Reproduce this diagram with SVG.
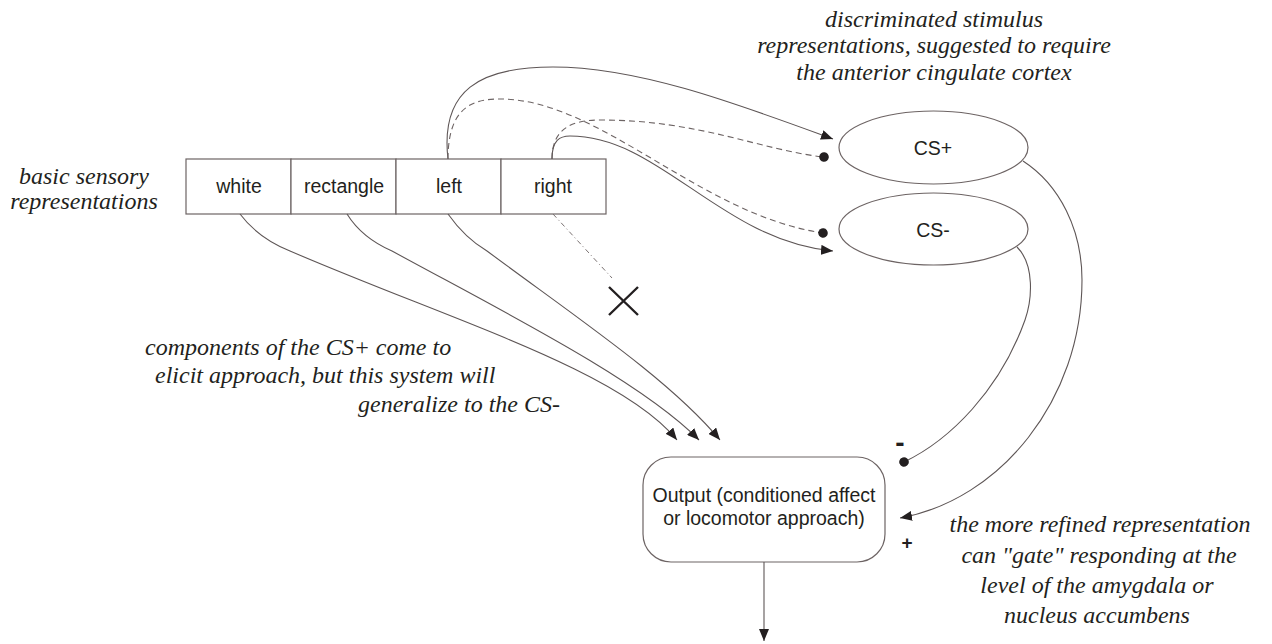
<svg xmlns="http://www.w3.org/2000/svg" width="1272" height="644" viewBox="0 0 1272 644">
<style>
.box{fill:#fff;stroke:#6d6464;stroke-width:1.2}
.lbl{font-family:"Liberation Sans",Arial,sans-serif;font-size:19.5px;fill:#231f20;text-anchor:middle}
.note{font-family:"Liberation Serif","Times New Roman",serif;font-style:italic;font-size:24px;fill:#231f20}
.c{fill:none;stroke:#5e5656;stroke-width:1.1}
.d{fill:none;stroke:#6d6464;stroke-width:1.1;stroke-dasharray:6 4}
.sign{font-family:"Liberation Sans",Arial,sans-serif;font-weight:bold;fill:#231f20;text-anchor:middle}
</style>
<defs>
<marker id="arr" viewBox="0 0 12 10" refX="12" refY="5" markerWidth="12" markerHeight="10" markerUnits="userSpaceOnUse" orient="auto">
<path d="M0,0 L12,5 L0,10 z" fill="#231f20"/>
</marker>
<marker id="dot" viewBox="0 0 10 10" refX="5" refY="5" markerWidth="10" markerHeight="10" markerUnits="userSpaceOnUse" orient="auto">
<circle cx="5" cy="5" r="4.8" fill="#231f20"/>
</marker>
</defs>
<rect width="1272" height="644" fill="#fff"/>

<g id="sensory">
<rect class="box" x="186" y="159" width="105" height="55"/>
<rect class="box" x="291" y="159" width="105" height="55"/>
<rect class="box" x="396" y="159" width="105" height="55"/>
<rect class="box" x="501" y="159" width="105" height="55"/>
<text class="lbl" x="239" y="193">white</text>
<text class="lbl" x="344" y="193">rectangle</text>
<text class="lbl" x="449" y="193">left</text>
<text class="lbl" x="553" y="193">right</text>
</g>

<g id="csplus">
<ellipse class="box" cx="933.5" cy="147.5" rx="94.5" ry="36.5"/>
<text class="lbl" x="933" y="155">CS+</text>
</g>
<g id="csminus">
<ellipse class="box" cx="933.5" cy="229" rx="94.5" ry="36"/>
<text class="lbl" x="933" y="237">CS-</text>
</g>

<g id="output">
<rect class="box" x="643" y="457" width="242" height="105" rx="28" ry="28"/>
<text class="lbl" x="764" y="502">Output (conditioned affect</text>
<text class="lbl" x="764" y="525">or locomotor approach)</text>
</g>

<g id="connectors">
<path class="c" d="M448,159 C440,90 480,67 553,67 C640,67 740,105 833,139" marker-end="url(#arr)"/>
<path class="d" d="M448,159 C448,105 475,99 500,99 C600,99 700,215 823,233" marker-end="url(#dot)"/>
<path class="d" d="M552,159 C552,130 570,120 600,120 C700,120 760,150 824,157" marker-end="url(#dot)"/>
<path class="c" d="M552,159 C552,140 560,136 570,136 C660,136 720,240 833,251" marker-end="url(#arr)"/>

<path class="c" d="M240,214 Q258,238 290,251 C450,320 620,370 677,440" marker-end="url(#arr)"/>
<path class="c" d="M347,214 Q362,238 392,251 C500,310 640,380 699,440" marker-end="url(#arr)"/>
<path class="c" d="M448,214 Q465,238 487,251 C580,320 670,380 720,440" marker-end="url(#arr)"/>

<path d="M553,214 L612,278" fill="none" stroke="#7a7272" stroke-width="1" stroke-dasharray="5 3 1 3"/>
<path d="M609,287 L638,315 M638,287 L609,315" stroke="#231f20" stroke-width="2.4" fill="none"/>

<path class="c" d="M1017,247 C1035,265 1032,300 1025,320 C1000,390 950,440 904,462" marker-end="url(#dot)"/>
<path class="c" d="M1023,161 C1060,185 1082,230 1082,280 C1082,400 1000,500 900,518" marker-end="url(#arr)"/>

<path class="c" d="M764,562 L764,641" marker-end="url(#arr)"/>
</g>

<text class="sign" x="900" y="452" font-size="28">-</text>
<text class="sign" x="907" y="549" font-size="19">+</text>

<g id="notes">
<text class="note" text-anchor="middle" font-size="22" x="84" y="184">basic sensory</text>
<text class="note" text-anchor="middle" font-size="22" x="84" y="209">representations</text>

<text class="note" text-anchor="middle" x="934" y="27">discriminated stimulus</text>
<text class="note" text-anchor="middle" x="934" y="53">representations, suggested to require</text>
<text class="note" text-anchor="middle" x="934" y="80">the anterior cingulate cortex</text>

<text class="note" x="145" y="355">components of the CS+ come to</text>
<text class="note" x="155" y="383">elicit approach, but this system will</text>
<text class="note" x="358" y="412">generalize to the CS-</text>

<text class="note" text-anchor="middle" x="1100" y="532">the more refined representation</text>
<text class="note" text-anchor="middle" x="1099" y="563">can "gate" responding at the</text>
<text class="note" text-anchor="middle" x="1097" y="593">level of the amygdala or</text>
<text class="note" text-anchor="middle" x="1097" y="623">nucleus accumbens</text>
</g>
</svg>
